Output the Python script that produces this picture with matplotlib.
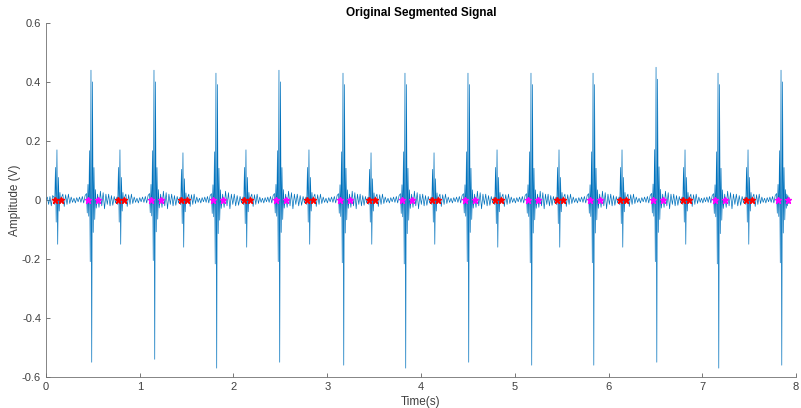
import numpy as np
import matplotlib.pyplot as plt

plt.rcParams["font.family"] = ["Liberation Sans", "DejaVu Sans"]

# peak times (s) and peak amplitudes (V) of each sound
small_t = [0.117, 0.789, 1.461, 2.133, 2.805, 3.467, 4.139, 4.811, 5.472, 6.144, 6.816, 7.488]
small_pos = [0.17, 0.17, 0.16, 0.17, 0.17, 0.16, 0.16, 0.17, 0.17, 0.17, 0.17, 0.17]
small_neg = [-0.15, -0.15, -0.16, -0.16, -0.15, -0.15, -0.15, -0.16, -0.16, -0.16, -0.15, -0.15]

large_t = [0.480, 1.152, 1.813, 2.485, 3.168, 3.829, 4.501, 5.173, 5.835, 6.507, 7.168, 7.840]
large_pos = [0.44, 0.44, 0.43, 0.44, 0.43, 0.43, 0.43, 0.43, 0.43, 0.45, 0.43, 0.44]
large_neg = [-0.55, -0.54, -0.57, -0.55, -0.56, -0.57, -0.55, -0.56, -0.56, -0.55, -0.57, -0.56]

# relative shape of each sound (successive extrema, about 8 ms apart)
small_shape = [0.06, -0.10, 0.65, -0.50, 1.0, -1.0, 0.45, -0.25, 0.15, -0.08, 0.05]
small_peak_idx = 4
large_shape = [0.05, -0.08, 0.12, -0.10, 0.38, -0.38, 1.0, -1.0, 0.91, -0.20, 0.25, -0.12, 0.08, -0.05]
large_peak_idx = 6

# baseline wiggle between the sounds (successive extrema, V)
lead_wiggle = [0.01, -0.015, 0.012, -0.02, 0.015]
after_small = [0.02, -0.022, 0.018, -0.015, 0.02, -0.012, 0.01, -0.008, 0.006,
               -0.01, 0.008, -0.006, 0.01, -0.008, 0.012, -0.01, 0.015]
after_large = [0.02, -0.025, 0.03, -0.02, 0.025, -0.03, 0.02, -0.015, 0.02,
               -0.02, 0.015, -0.018, 0.012, -0.01]
tail_wiggle = [0.02, -0.02, 0.015, -0.012, 0.01]
t_end = 7.93

# segmentation marks (s)
red_on = [0.097, 0.769, 1.441, 2.113, 2.785, 3.447, 4.119, 4.791, 5.452, 6.124, 6.796, 7.468]
red_off = [0.162, 0.834, 1.506, 2.178, 2.850, 3.512, 4.184, 4.856, 5.517, 6.189, 6.861, 7.533]
mag_on = [0.445, 1.117, 1.778, 2.450, 3.133, 3.794, 4.466, 5.138, 5.800, 6.472, 7.133, 7.805]
mag_off = [0.550, 1.222, 1.883, 2.555, 3.238, 3.899, 4.571, 5.243, 5.905, 6.577, 7.238, 7.910]

step = 0.008


def sound(tc, shape, peak_idx, pos, neg):
    ts = [tc + (i - peak_idx) * step for i in range(len(shape))]
    vs = [s * (pos if s > 0 else -neg) for s in shape]
    return ts, vs


def wiggle(t0, t1, vals):
    ts = np.linspace(t0, t1, len(vals) + 2)[1:-1]
    return list(ts), list(vals)


def build_signal():
    t, v = [0.0], [0.0]
    events = []
    for i in range(len(small_t)):
        events.append(sound(small_t[i], small_shape, small_peak_idx, small_pos[i], small_neg[i]) + ("s",))
        events.append(sound(large_t[i], large_shape, large_peak_idx, large_pos[i], large_neg[i]) + ("l",))
    prev_end, prev_kind = 0.0, None
    for ts, vs, kind in events:
        if prev_kind is None:
            w = lead_wiggle
        elif prev_kind == "s":
            w = after_small
        else:
            w = after_large
        wt, wv = wiggle(prev_end, ts[0], w)
        t += wt + ts
        v += wv + vs
        prev_end, prev_kind = ts[-1], kind
    wt, wv = wiggle(prev_end, t_end, tail_wiggle)
    t += wt + [t_end]
    v += wv + [0.0]
    return np.array(t), np.array(v)


def draw_plot():
    t, v = build_signal()
    fig = plt.figure(figsize=(8.01, 4.08), dpi=100)
    ax = fig.add_axes([0.0574, 0.076, 0.9364, 0.8676])
    ax.plot(t, v, color="#0072BD", lw=0.5)
    ax.plot(red_on + red_off, [0] * (len(red_on) + len(red_off)), "*",
            color="red", ms=4.5, mew=1.0, ls="none")
    ax.plot(mag_on + mag_off, [0] * (len(mag_on) + len(mag_off)), "*",
            color="magenta", ms=4.5, mew=1.0, ls="none")

    ax.set_xlim(0, 8)
    ax.set_ylim(-0.6, 0.6)
    ax.set_xticks(range(0, 9))
    ax.set_yticks([-0.6, -0.4, -0.2, 0, 0.2, 0.4, 0.6])
    ax.set_yticklabels(["-0.6", "-0.4", "-0.2", "0", "0.2", "0.4", "0.6"])
    ax.tick_params(direction="in", length=3, width=0.6, colors="#606060",
                   labelsize=8, labelcolor="#404040")
    for side in ["top", "right"]:
        ax.spines[side].set_visible(False)
    for side in ["left", "bottom"]:
        ax.spines[side].set_color("#707070")
        ax.spines[side].set_linewidth(0.6)

    ax.set_title("Original Segmented Signal", fontsize=8.5, fontweight="bold", pad=5)
    ax.set_xlabel("Time(s)", fontsize=8.5, color="#404040", labelpad=3)
    ax.set_ylabel("Amplitude (V)", fontsize=8.5, color="#404040", labelpad=1)
    fig.savefig("out.png", dpi=100)


if __name__ == "__main__":
    draw_plot()
